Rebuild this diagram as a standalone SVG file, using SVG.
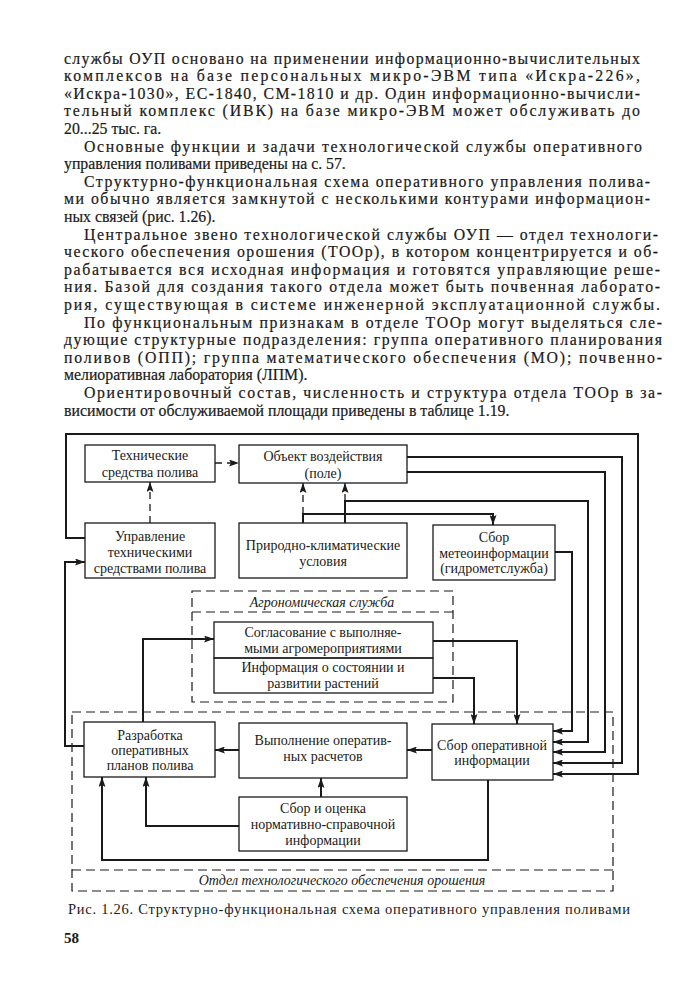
<svg xmlns="http://www.w3.org/2000/svg" width="674" height="1000" viewBox="0 0 674 1000">
<style>
.body{font-family:"Liberation Serif","DejaVu Serif",serif;font-size:15.8px;fill:#1a1a1a;stroke:#1a1a1a;stroke-width:0.2}
.lbl{font-family:"Liberation Serif","DejaVu Serif",serif;font-size:14px;fill:#1a1a1a;text-anchor:middle}
.ital{font-family:"Liberation Serif","DejaVu Serif",serif;font-size:14px;font-style:italic;fill:#1a1a1a;text-anchor:middle}
.box{fill:none;stroke:#1a1a1a;stroke-width:1.3}
.dbox{fill:none;stroke:#1a1a1a;stroke-width:1.2;stroke-dasharray:9 5}
.c{fill:none;stroke:#1a1a1a;stroke-width:2}
.cd{fill:none;stroke:#1a1a1a;stroke-width:1.3;stroke-dasharray:7 5}
.cap{font-family:"Liberation Serif","DejaVu Serif",serif;font-size:14.5px;fill:#1a1a1a}
</style>
<defs>
<marker id="ar" markerWidth="10" markerHeight="7" refX="10" refY="3.5" orient="auto" markerUnits="userSpaceOnUse">
<path d="M0,0 L10,3.5 L0,7 L2,3.5 z" fill="#1a1a1a"/>
</marker>
</defs>
<rect width="674" height="1000" fill="#ffffff"/>
<g id="text">
<text class="body" x="64" y="63.5" textLength="576" lengthAdjust="spacing">службы ОУП основано на применении информационно-вычислительных</text>
<text class="body" x="64" y="81.1" textLength="576" lengthAdjust="spacing">комплексов на базе персональных микро-ЭВМ типа «Искра-226»,</text>
<text class="body" x="64" y="98.7" textLength="576" lengthAdjust="spacing">«Искра-1030», ЕС-1840, СМ-1810 и др. Один информационно-вычисли-</text>
<text class="body" x="64" y="116.3" textLength="576" lengthAdjust="spacing">тельный комплекс (ИВК) на базе микро-ЭВМ может обслуживать до</text>
<text class="body" x="64" y="133.9">20...25 тыс. га.</text>
<text class="body" x="84" y="151.5" textLength="558" lengthAdjust="spacing">Основные функции и задачи технологической службы оперативного</text>
<text class="body" x="64" y="169.1">управления поливами приведены на с. 57.</text>
<text class="body" x="84" y="186.7" textLength="566" lengthAdjust="spacing">Структурно-функциональная схема оперативного управления полива-</text>
<text class="body" x="64" y="204.3" textLength="586" lengthAdjust="spacing">ми обычно является замкнутой с несколькими контурами информацион-</text>
<text class="body" x="64" y="221.9">ных связей (рис. 1.26).</text>
<text class="body" x="84" y="239.5" textLength="574" lengthAdjust="spacing">Центральное звено технологической службы ОУП — отдел технологи-</text>
<text class="body" x="64" y="257.1" textLength="594" lengthAdjust="spacing">ческого обеспечения орошения (ТООр), в котором концентрируется и об-</text>
<text class="body" x="64" y="274.7" textLength="596" lengthAdjust="spacing">рабатывается вся исходная информация и готовятся управляющие реше-</text>
<text class="body" x="64" y="292.3" textLength="596" lengthAdjust="spacing">ния. Базой для создания такого отдела может быть почвенная лаборато-</text>
<text class="body" x="64" y="309.9" textLength="596" lengthAdjust="spacing">рия, существующая в системе инженерной эксплуатационной службы.</text>
<text class="body" x="84" y="327.5" textLength="578" lengthAdjust="spacing">По функциональным признакам в отделе ТООр могут выделяться сле-</text>
<text class="body" x="64" y="345.1" textLength="598" lengthAdjust="spacing">дующие структурные подразделения: группа оперативного планирования</text>
<text class="body" x="64" y="362.7" textLength="598" lengthAdjust="spacing">поливов (ОПП); группа математического обеспечения (МО); почвенно-</text>
<text class="body" x="64" y="380.3">мелиоративная лаборатория (ЛПМ).</text>
<text class="body" x="84" y="397.9" textLength="578" lengthAdjust="spacing">Ориентировочный состав, численность и структура отдела ТООр в за-</text>
<text class="body" x="64" y="415.5">висимости от обслуживаемой площади приведены в таблице 1.19.</text>
</g>
<g id="connectors">
<path class="c" d="M85,538 H66 V434 H638 V774 H553" marker-end="url(#ar)"/>
<path class="c" d="M407,457 H622 V763 H553" marker-end="url(#ar)"/>
<path class="c" d="M407,472 H605 V752 H553" marker-end="url(#ar)"/>
<path class="c" d="M345,523 V501 H588 V742 H553" marker-end="url(#ar)"/>
<path class="c" d="M555,552 H572 V731 H553" marker-end="url(#ar)"/>
<path class="c" d="M303,523 V514 H493 V525" marker-end="url(#ar)"/>
<path class="cd" d="M303,514 V483" marker-end="url(#ar)"/>
<path class="cd" d="M345,501 V483" marker-end="url(#ar)"/>
<path class="cd" d="M215,463 H239" marker-end="url(#ar)"/>
<path class="cd" d="M150,523 V482" marker-end="url(#ar)"/>
<path class="c" d="M433,641 H517 V724" marker-end="url(#ar)"/>
<path class="c" d="M433,678 H474 V724" marker-end="url(#ar)"/>
<path class="c" d="M432,750 H407" marker-end="url(#ar)"/>
<path class="c" d="M239,750 H215" marker-end="url(#ar)"/>
<path class="c" d="M321,797 V778" marker-end="url(#ar)"/>
<path class="c" d="M239,826 H146 V777" marker-end="url(#ar)"/>
<path class="c" d="M488,780 V860 H102 V777" marker-end="url(#ar)"/>
<path class="c" d="M143,722 V639 H214" marker-end="url(#ar)"/>
<path class="c" d="M84,746 H65 V562 H85" marker-end="url(#ar)"/>
</g>
<g id="agro">
<rect class="dbox" x="192" y="591" width="261" height="111"/>
<line class="dbox" x1="192" y1="612" x2="453" y2="612"/>
<text class="ital" x="322" y="607">Агрономическая служба</text>
</g>
<g id="otdel">
<rect class="dbox" x="72" y="712" width="541" height="179"/>
<line class="dbox" x1="72" y1="870" x2="613" y2="870"/>
<text class="ital" x="342" y="885">Отдел технологического обеспечения орошения</text>
</g>
<g id="tech">
<rect class="box" x="85" y="445" width="130" height="37"/>
<text class="lbl" x="150" y="460">Технические</text>
<text class="lbl" x="150" y="477">средства полива</text>
</g>
<g id="obj">
<rect class="box" x="239" y="445" width="168" height="38"/>
<text class="lbl" x="323" y="461">Объект воздействия</text>
<text class="lbl" x="323" y="478">(поле)</text>
</g>
<g id="upr">
<rect class="box" x="85" y="523" width="130" height="55"/>
<text class="lbl" x="150" y="541">Управление</text>
<text class="lbl" x="150" y="557">техническими</text>
<text class="lbl" x="150" y="573">средствами полива</text>
</g>
<g id="prir">
<rect class="box" x="239" y="523" width="168" height="55"/>
<text class="lbl" x="323" y="550">Природно-климатические</text>
<text class="lbl" x="323" y="566">условия</text>
</g>
<g id="meteo">
<rect class="box" x="433" y="525" width="122" height="55"/>
<text class="lbl" x="494" y="542">Сбор</text>
<text class="lbl" x="494" y="558">метеоинформации</text>
<text class="lbl" x="494" y="573">(гидрометслужба)</text>
</g>
<g id="soglas">
<rect class="box" x="214" y="622" width="219" height="36"/>
<text class="lbl" x="323" y="637">Согласование с выполняе-</text>
<text class="lbl" x="323" y="653">мыми агромероприятиями</text>
</g>
<g id="inform">
<rect class="box" x="214" y="658" width="219" height="35"/>
<text class="lbl" x="323" y="672">Информация о состоянии и</text>
<text class="lbl" x="323" y="688">развитии растений</text>
</g>
<g id="razr">
<rect class="box" x="84" y="722" width="131" height="55"/>
<text class="lbl" x="150" y="740">Разработка</text>
<text class="lbl" x="150" y="755">оперативных</text>
<text class="lbl" x="150" y="770">планов полива</text>
</g>
<g id="vyp">
<rect class="box" x="239" y="723" width="168" height="55"/>
<text class="lbl" x="323" y="745">Выполнение оператив-</text>
<text class="lbl" x="323" y="761">ных расчетов</text>
</g>
<g id="sboroper">
<rect class="box" x="432" y="724" width="121" height="56"/>
<text class="lbl" x="492" y="750">Сбор оперативной</text>
<text class="lbl" x="492" y="765">информации</text>
</g>
<g id="sborocen">
<rect class="box" x="239" y="797" width="168" height="54"/>
<text class="lbl" x="323" y="813">Сбор и оценка</text>
<text class="lbl" x="323" y="829">нормативно-справочной</text>
<text class="lbl" x="323" y="845">информации</text>
</g>
<g id="caption">
<text class="cap" x="68" y="914" textLength="562" lengthAdjust="spacing">Рис. 1.26. Структурно-функциональная схема оперативного управления поливами</text>
<text x="64" y="943" style="font-family:'Liberation Serif',serif;font-size:15px;font-weight:bold;fill:#1a1a1a">58</text>
</g>
</svg>
